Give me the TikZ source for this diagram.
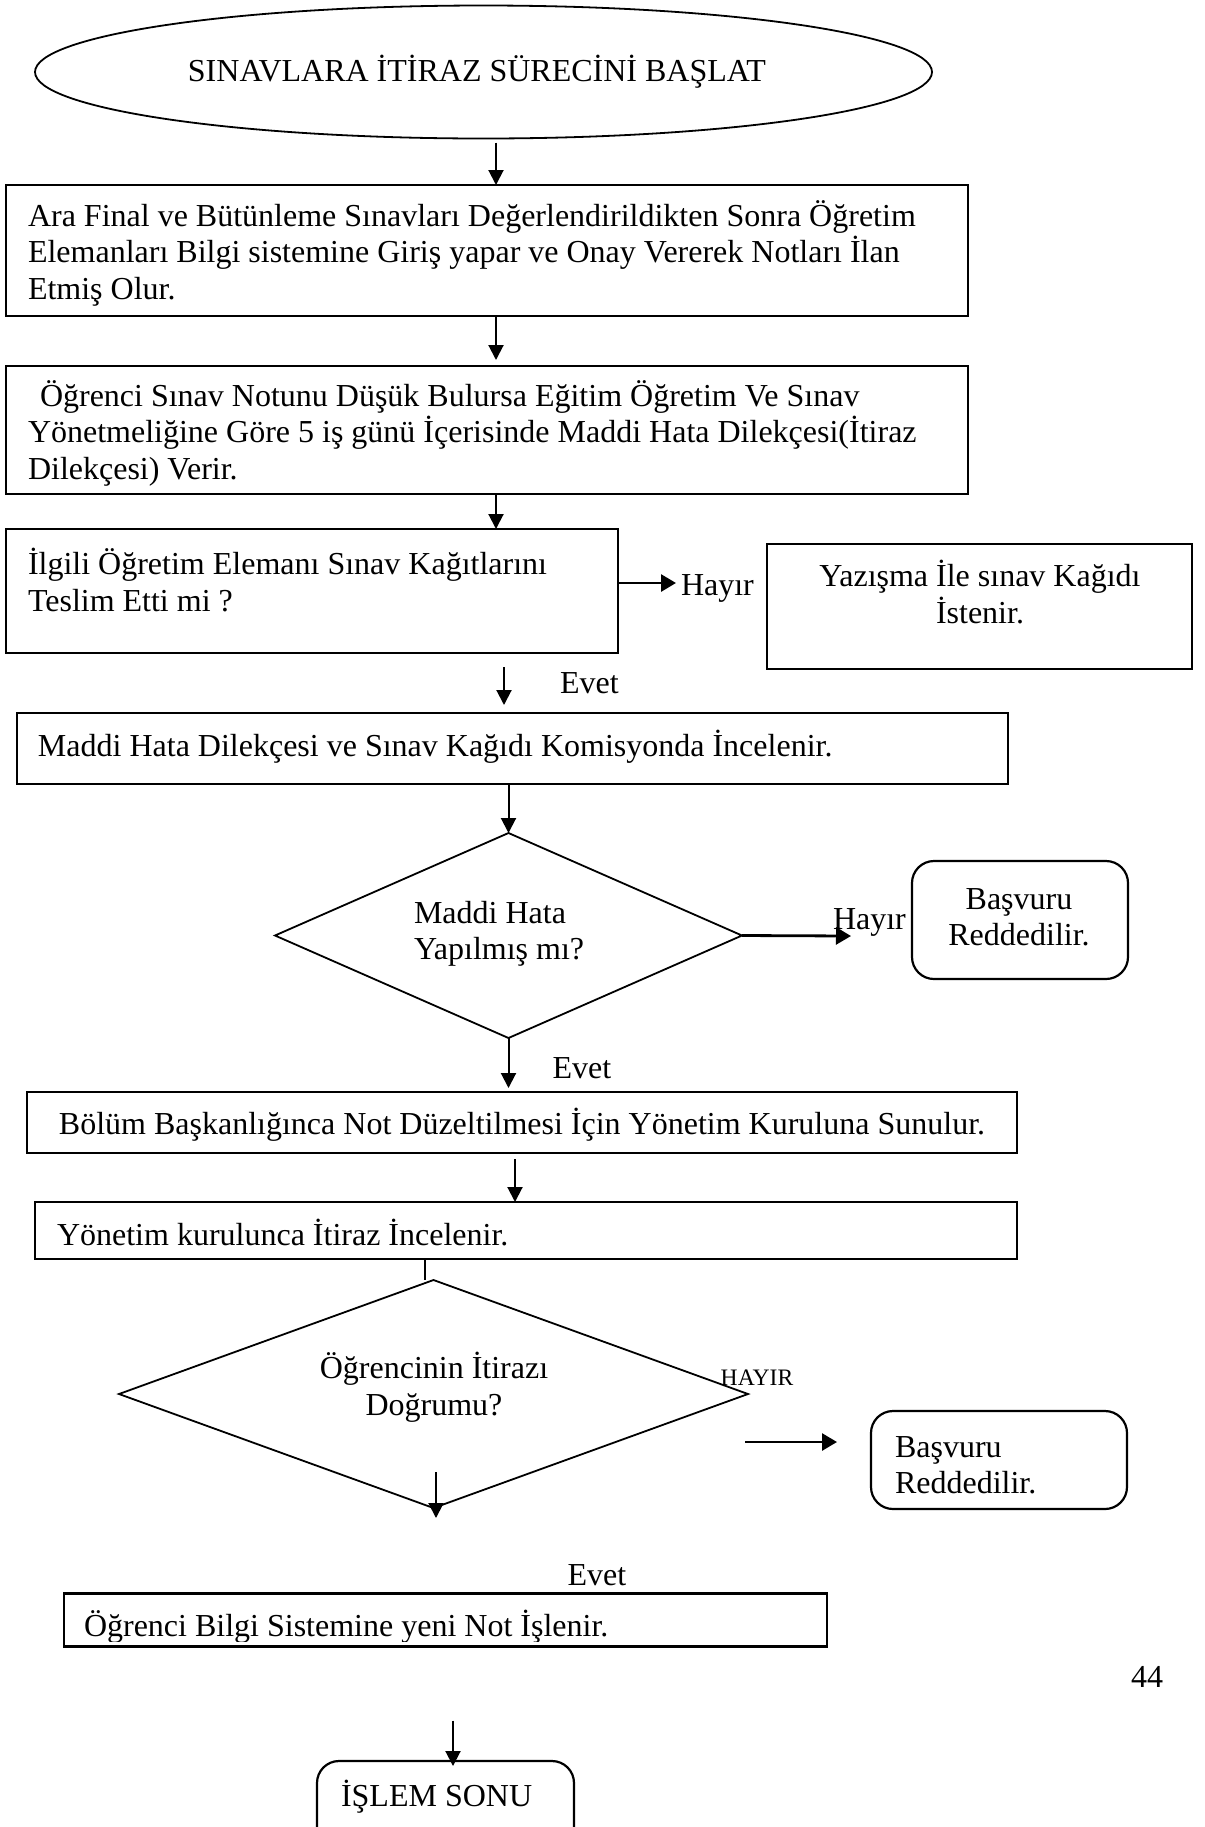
\documentclass[tikz,border=0pt]{standalone}
\usepackage{fontspec}
\setmainfont{Liberation Serif}
\usetikzlibrary{arrows.meta,shapes.geometric}
\begin{document}
\begin{tikzpicture}[x=0.5pt,y=-0.5pt,
  every node/.style={inner sep=0pt, outer sep=0pt},
  box/.style={draw, line width=1.1pt, rectangle},
  rbox/.style={draw, line width=1.1pt, rectangle, rounded corners=11pt},
  dia/.style={draw, line width=0.9pt, diamond},
  oval/.style={draw, line width=0.9pt, ellipse},
  txt/.style={font=\fontsize{16pt}{18.25pt}\selectfont},
  small/.style={font=\fontsize{11.8pt}{13pt}\selectfont},
  arr/.style={line width=1pt, -{Triangle[length=7.5pt,width=7.5pt]}},
  thickarr/.style={line width=1.4pt, -{Triangle[length=7.5pt,width=8.5pt]}},
]
\useasboundingbox (0,0) rectangle (1205,1827);
\clip (0,0) rectangle (1205,1827);

% shapes
\node[oval, minimum width=448.5pt, minimum height=66.5pt] (e) at (483.5,72) {};
\node[box, minimum width=481pt, minimum height=65.5pt] (b1) at (487,250.5) {};
\node[box, minimum width=481pt, minimum height=64pt] (b2) at (487,430) {};
\node[box, minimum width=306pt, minimum height=62pt] (b3) at (312,591) {};
\node[box, minimum width=212.5pt, minimum height=62.5pt] (b4) at (979.5,606.5) {};
\node[box, minimum width=495.5pt, minimum height=35.5pt] (b5) at (512.5,748.5) {};
\node[dia, minimum width=233.5pt, minimum height=102.5pt] (d1) at (508.5,935.5) {};
\node[rbox, minimum width=108pt, minimum height=59pt] (b6) at (1020,920) {};
\node[box, minimum width=495pt, minimum height=30.5pt] (b7) at (522,1122.5) {};
\node[box, minimum width=491pt, minimum height=28.5pt] (b8) at (526,1230.5) {};
\node[dia, minimum width=314.5pt, minimum height=114pt] (d2) at (433.5,1394) {};
\node[rbox, minimum width=128pt, minimum height=49pt] (b9) at (999,1460) {};
\node[box, minimum width=381.5pt, minimum height=26.5pt] (b10) at (445.5,1620) {};
\node[rbox, minimum width=128.5pt, minimum height=50pt] (b11) at (445.5,1811) {};

% texts
\node[txt] (t0) at (477,72) {SINAVLARA İTİRAZ SÜRECİNİ BAŞLAT};
\node[txt, anchor=west, align=left] (t1) at (28,253) {Ara Final ve Bütünleme Sınavları Değerlendirildikten Sonra Öğretim\\Elemanları Bilgi sistemine Giriş yapar ve Onay Vererek Notları İlan\\Etmiş Olur.};
\node[txt, anchor=west, align=left] (t2) at (28,433) {\hspace*{6pt}Öğrenci Sınav Notunu Düşük Bulursa Eğitim Öğretim Ve Sınav\\Yönetmeliğine Göre 5 iş günü İçerisinde Maddi Hata Dilekçesi(İtiraz\\Dilekçesi) Verir.};
\node[txt, anchor=west, align=left] (t3) at (28,580) {İlgili Öğretim Elemanı Sınav Kağıtlarını\\Teslim Etti mi ?};
\node[txt, anchor=west] (lh1) at (681,588) {Hayır};
\node[txt, align=center] (t4) at (980,592) {Yazışma İle sınav Kağıdı\\İstenir.};
\node[txt, anchor=west] (le1) at (560,683) {Evet};
\node[txt, anchor=west] (t5) at (38,747) {Maddi Hata Dilekçesi ve Sınav Kağıdı Komisyonda İncelenir.};
\node[txt, anchor=west, align=left] (td1) at (414,934) {Maddi Hata\\Yapılmış mı?};
\node[txt, anchor=west] (lh2) at (833,922) {Hayır};
\node[txt, align=center] (t6) at (1019,917) {Başvuru\\Reddedilir.};
\node[txt] (le2) at (582,1068) {Evet};
\node[txt] (t7) at (522,1125) {Bölüm Başkanlığınca Not Düzeltilmesi İçin Yönetim Kuruluna Sunulur.};
\node[txt, anchor=west] (t8) at (57,1233) {Yönetim kurulunca İtiraz İncelenir.};
\node[txt, align=center] (td2) at (434,1387) {Öğrencinin İtirazı\\Doğrumu?};
\node[small] (lh3) at (757,1378) {HAYIR};
\node[txt, anchor=west, align=left] (t9) at (895,1465) {Başvuru\\Reddedilir.};
\node[txt] (le3) at (597,1575) {Evet};
\begin{scope}
  \clip (64,1590) rectangle (827,1641);
  \node[txt, anchor=base west] (t10) at (84,1636) {Öğrenci Bilgi Sistemine yeni Not İşlenir.};
\end{scope}
\node[txt] (pg) at (1147,1677) {44};
\node[txt, anchor=west] (t11) at (341,1797) {İŞLEM SONU};

% connector positions
\coordinate (x1) at (496,0);
\coordinate (x2) at (504,0);
\coordinate (x3) at (515,0);
\coordinate (x4) at (425,0);
\coordinate (x5) at (453,0);
\coordinate (h1) at (676,583);
\coordinate (h2) at (851,936);
\coordinate (h3) at (745,1442);
\coordinate (e3a) at (436,1472);
\coordinate (e3b) at (436,1518);

% connectors
\draw[arr, shorten <=2pt] (e.south -| x1) -- (b1.north -| x1);
\draw[arr, shorten >=3pt] (b1.south -| x1) -- (b2.north -| x1);
\draw[arr] (b2.south -| x1) -- (b3.north -| x1);
\draw[thickarr] (b3.east |- h1) -- (h1);
\draw[arr, shorten <=7pt, shorten >=4pt] (b3.south -| x2) -- (b5.north -| x2);
\draw[arr] (b5.south -| d1.north) -- (d1.north);
\draw[thickarr] (d1.east) -- (h2);
\draw[arr, shorten >=2pt] (d1.south) -- (b7.north -| d1.south);
\draw[arr, shorten <=3pt] (b7.south -| x3) -- (b8.north -| x3);
\draw[line width=1pt] (b8.south -| x4) -- (d2.north -| x4);
\draw[arr] (e3a) -- (e3b);
\draw[thickarr, shorten >=17pt] (h3) -- (h3 -| b9.west);
\draw[arr, shorten <=37pt, shorten >=-2.5pt] (b10.south -| x5) -- (b11.north -| x5);
\end{tikzpicture}
\end{document}
